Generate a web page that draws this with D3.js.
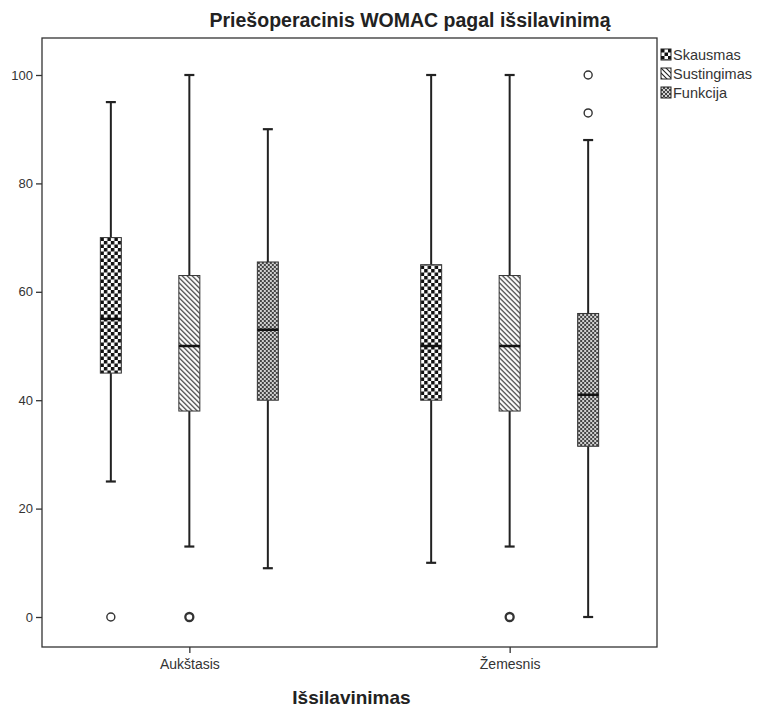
<!DOCTYPE html>
<html>
<head>
<meta charset="utf-8">
<script src="https://cdn.jsdelivr.net/npm/d3@7"></script>
<style>
  body { margin: 0; background: #fff; }
  text { font-family: "Liberation Sans", Arial, sans-serif; }
</style>
</head>
<body>
<div id="main"></div>
<script>
// groups on the x axis and the three WOMAC subscales
var groups = ["Aukštasis", "Žemesnis"];
var series = ["Skausmas", "Sustingimas", "Funkcija"];

// five-number summaries: [low whisker, Q1, median, Q3, high whisker]
var skausmas    = [[25, 45, 55, 70, 95], [10, 40, 50, 65, 100]];
var sustingimas = [[13, 38, 50, 63, 100], [13, 38, 50, 63, 100]];
var funkcija    = [[9, 40, 53, 65.5, 90], [0, 31.5, 41, 56, 88]];

// outliers: [group index, series index, value, repeated?]
var outliers = [
    [0, 0, 0, false],
    [0, 1, 0, true],
    [1, 1, 0, true],
    [1, 2, 93, false],
    [1, 2, 100, false]
];

var yTicks = [0, 20, 40, 60, 80, 100];

var margin = {top: 38, right: 106, bottom: 62, left: 42},
    width = 763 - margin.left - margin.right,
    height = 709 - margin.top - margin.bottom;

var svg = d3.select("#main")
    .append("svg")
    .attr("width", 763)
    .attr("height", 709);

var defs = svg.append("defs");

// checkerboard
var pCheck = defs.append("pattern")
    .attr("id", "pat0")
    .attr("patternUnits", "userSpaceOnUse")
    .attr("width", 7).attr("height", 7);
pCheck.append("rect").attr("width", 7).attr("height", 7).attr("fill", "#fff");
pCheck.append("rect").attr("width", 3.5).attr("height", 3.5).attr("fill", "#111");
pCheck.append("rect").attr("x", 3.5).attr("y", 3.5).attr("width", 3.5).attr("height", 3.5).attr("fill", "#111");

// diagonal hatch
var pHatch = defs.append("pattern")
    .attr("id", "pat1")
    .attr("patternUnits", "userSpaceOnUse")
    .attr("width", 5).attr("height", 5);
pHatch.append("rect").attr("width", 5).attr("height", 5).attr("fill", "#fff");
pHatch.append("path")
    .attr("d", "M-1,-1L6,6M-1,4L1,6M4,-1L6,1")
    .attr("stroke", "#222")
    .attr("stroke-width", 1.1);

// dotted crosshatch
var pDots = defs.append("pattern")
    .attr("id", "pat2")
    .attr("patternUnits", "userSpaceOnUse")
    .attr("width", 4).attr("height", 4);
pDots.append("rect").attr("width", 4).attr("height", 4).attr("fill", "#444");
pDots.append("circle").attr("cx", 1).attr("cy", 1).attr("r", 1).attr("fill", "#fff");
pDots.append("circle").attr("cx", 3).attr("cy", 3).attr("r", 1).attr("fill", "#fff");

var g = svg.append("g")
    .attr("transform", "translate(" + margin.left + "," + margin.top + ")");

var y = d3.scaleLinear()
    .domain([0, 100])
    .range([579, 37]);

var x = d3.scalePoint()
    .domain(groups)
    .range([0, width])
    .padding(0.46);

var sub = d3.scalePoint()
    .domain(series)
    .range([-78.5, 78.5]);

var boxW = 21, capW = 10;

// frame
g.append("rect")
    .attr("width", width)
    .attr("height", height)
    .attr("fill", "none")
    .attr("stroke", "#333")
    .attr("stroke-width", 1.3);

// y axis
var yAxis = g.append("g")
    .call(d3.axisLeft(y).tickValues(yTicks).tickSize(6).tickPadding(3));
yAxis.select(".domain").remove();
yAxis.selectAll("line").attr("stroke", "#333").attr("stroke-width", 1.3);
yAxis.selectAll("text")
    .attr("fill", "#333")
    .style("font-size", "13px");

// x axis
var xAxis = g.append("g")
    .attr("transform", "translate(0," + height + ")")
    .call(d3.axisBottom(x).tickSize(6).tickPadding(6));
xAxis.select(".domain").remove();
xAxis.selectAll("line").attr("stroke", "#333").attr("stroke-width", 1.3);
xAxis.selectAll("text")
    .attr("fill", "#333")
    .style("font-size", "14px");

var allData = [skausmas, sustingimas, funkcija];

var boxes = [];
allData.forEach(function(s, si) {
    s.forEach(function(v, gi) {
        boxes.push({g: gi, s: si, v: v});
    });
});

var bx = g.selectAll("g.box")
    .data(boxes)
    .enter()
    .append("g")
    .attr("class", "box")
    .attr("transform", function(d) {
        return "translate(" + (x(groups[d.g]) + sub(series[d.s])) + ",0)";
    });

// whiskers
bx.append("line")
    .attr("y1", function(d) { return y(d.v[4]); })
    .attr("y2", function(d) { return y(d.v[3]); })
    .attr("stroke", "#222").attr("stroke-width", 2);
bx.append("line")
    .attr("y1", function(d) { return y(d.v[1]); })
    .attr("y2", function(d) { return y(d.v[0]); })
    .attr("stroke", "#222").attr("stroke-width", 2);
bx.append("line")
    .attr("x1", -capW / 2).attr("x2", capW / 2)
    .attr("y1", function(d) { return y(d.v[4]); })
    .attr("y2", function(d) { return y(d.v[4]); })
    .attr("stroke", "#222").attr("stroke-width", 2.2);
bx.append("line")
    .attr("x1", -capW / 2).attr("x2", capW / 2)
    .attr("y1", function(d) { return y(d.v[0]); })
    .attr("y2", function(d) { return y(d.v[0]); })
    .attr("stroke", "#222").attr("stroke-width", 2.2);

// box
bx.append("rect")
    .attr("x", -boxW / 2)
    .attr("width", boxW)
    .attr("y", function(d) { return y(d.v[3]); })
    .attr("height", function(d) { return y(d.v[1]) - y(d.v[3]); })
    .attr("fill", function(d) { return "url(#pat" + d.s + ")"; })
    .attr("stroke", "#333")
    .attr("stroke-width", 1);

// median
bx.append("line")
    .attr("x1", -boxW / 2).attr("x2", boxW / 2)
    .attr("y1", function(d) { return y(d.v[2]); })
    .attr("y2", function(d) { return y(d.v[2]); })
    .attr("stroke", "#111").attr("stroke-width", 2.5);

// outliers
g.selectAll("circle.out")
    .data(outliers)
    .enter()
    .append("circle")
    .attr("class", "out")
    .attr("cx", function(d) { return x(groups[d[0]]) + sub(series[d[1]]); })
    .attr("cy", function(d) { return y(d[2]); })
    .attr("r", 4)
    .attr("fill", "#fff")
    .attr("stroke", "#333")
    .attr("stroke-width", function(d) { return d[3] ? 2.3 : 1.4; });

// title
svg.append("text")
    .attr("x", 410)
    .attr("y", 27)
    .attr("text-anchor", "middle")
    .style("font-size", "19.5px")
    .style("font-weight", "bold")
    .attr("fill", "#222")
    .text("Priešoperacinis WOMAC pagal išsilavinimą");

// x axis title
svg.append("text")
    .attr("x", margin.left + width / 2 + 2)
    .attr("y", 704)
    .attr("text-anchor", "middle")
    .style("font-size", "19px")
    .style("font-weight", "bold")
    .attr("fill", "#222")
    .text("Išsilavinimas");

// legend
var legend = svg.append("g")
    .attr("transform", "translate(661,49)");
var li = legend.selectAll("g")
    .data(series)
    .enter()
    .append("g")
    .attr("transform", function(d, i) { return "translate(0," + i * 19 + ")"; });
li.append("rect")
    .attr("width", 10).attr("height", 11)
    .attr("fill", function(d, i) { return "url(#pat" + i + ")"; })
    .attr("stroke", "#222")
    .attr("stroke-width", 1);
li.append("text")
    .attr("x", 12)
    .attr("y", 11)
    .style("font-size", "14.5px")
    .attr("fill", "#333")
    .text(function(d) { return d; });
</script>
</body>
</html>
